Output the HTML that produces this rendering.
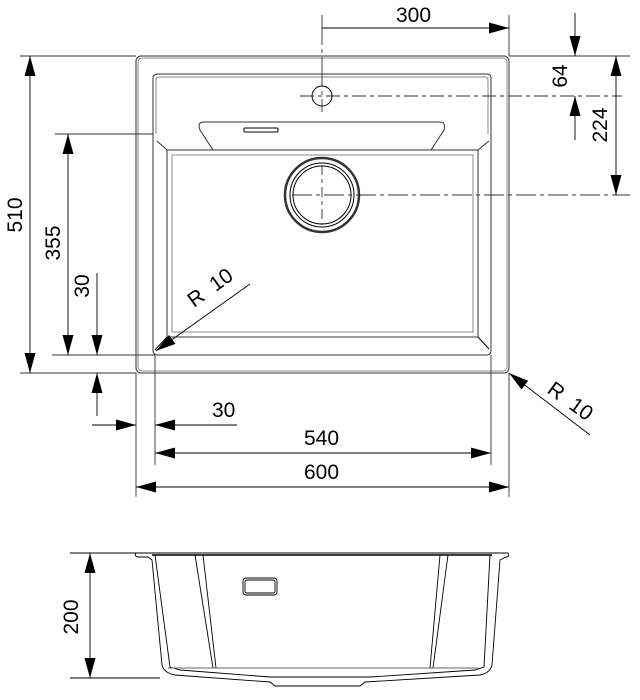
<!DOCTYPE html>
<html><head><style>body{margin:0;background:#fff}svg{display:block}text{font-family:"Liberation Sans",sans-serif;font-size:21px;fill:#000}</style></head><body>
<svg width="640" height="700" viewBox="0 0 640 700" xmlns="http://www.w3.org/2000/svg">
<defs>
<marker id="a" viewBox="0 0 10 10" refX="10" refY="5" markerWidth="20" markerHeight="11" orient="auto-start-reverse" markerUnits="userSpaceOnUse" preserveAspectRatio="none"><path d="M0,0L10,5L0,10z" fill="#000"/></marker>
</defs>
<g fill="none" stroke="#000" stroke-width="1">
<rect x="136" y="56" width="373" height="317" rx="5" stroke="#333"/>
<rect x="138" y="58" width="369" height="313" rx="4" stroke="#888"/>
<path d="M153,134 V78 Q153,74 158,74 H487 Q491,74 491,78 V134" stroke="#333"/>
<path d="M156,134 V80 Q156,77 160,77 H485 Q488,77 488,80 V134" stroke="#888"/>
<path d="M153,134 V350 Q153,355 158,355 H487 Q491,355 491,350 V134" stroke="#333"/>
<path d="M157,141 L167,150 H213 L200,130 Q197,122 204,122 H440 Q446,122 444,130 L431,150 H478 L489,141" stroke="#333"/>
<path d="M167,150 V337 H478 V150" stroke="#333"/>
<path d="M172,155 V332 H473 V155 Z" stroke="#888"/>
<path d="M213,150 H431" stroke="#333"/>
<path d="M167,337 L155,350 M478,337 L489,349"/>
<rect x="244" y="128" width="34" height="4" rx="1"/>
<circle cx="322" cy="195" r="37" stroke-width="2.5" stroke="#333"/>
<circle cx="322" cy="195" r="32"/>
<circle cx="322" cy="195" r="29"/>
<circle cx="322" cy="96" r="10"/>
</g>
<g fill="none" stroke="#333" stroke-width="0.9">
<line x1="322" y1="15" x2="322" y2="112" stroke-dasharray="30,4,4,4"/>
<line x1="300" y1="96" x2="622" y2="96" stroke-dasharray="14,4,4,4"/>
<line x1="322" y1="165" x2="322" y2="225" stroke-dasharray="10,4,4,4"/>
<line x1="292" y1="195" x2="630" y2="195" stroke-dasharray="20,4,4,4"/>
<line x1="509" y1="15" x2="509" y2="56"/>
<line x1="509" y1="56" x2="630" y2="56"/>
<line x1="20" y1="56" x2="136" y2="56"/>
<line x1="20" y1="373" x2="136" y2="373"/>
<line x1="55" y1="134" x2="153" y2="134"/>
<line x1="52" y1="355" x2="155" y2="355"/>
<line x1="136" y1="373" x2="136" y2="497"/>
<line x1="155" y1="355" x2="155" y2="465"/>
<line x1="509" y1="373" x2="509" y2="497"/>
<line x1="491" y1="355" x2="491" y2="465"/>
</g>
<g stroke="#000" stroke-width="0.9" fill="none">
<line x1="322" y1="28" x2="509" y2="28" marker-end="url(#a)"/>
<line x1="30" y1="56" x2="30" y2="373" marker-start="url(#a)" marker-end="url(#a)"/>
<line x1="68" y1="134" x2="68" y2="355" marker-start="url(#a)" marker-end="url(#a)"/>
<line x1="97" y1="273" x2="97" y2="355" marker-end="url(#a)"/>
<line x1="97" y1="416" x2="97" y2="373" marker-end="url(#a)"/>
<line x1="575" y1="13" x2="575" y2="56" marker-end="url(#a)"/>
<line x1="575" y1="140" x2="575" y2="96" marker-end="url(#a)"/>
<line x1="616" y1="56" x2="616" y2="195" marker-start="url(#a)" marker-end="url(#a)"/>
<line x1="92" y1="425" x2="136" y2="425" marker-end="url(#a)"/>
<line x1="237" y1="425" x2="155" y2="425" marker-end="url(#a)"/>
<line x1="155" y1="453" x2="491" y2="453" marker-start="url(#a)" marker-end="url(#a)"/>
<line x1="136" y1="487" x2="509" y2="487" marker-start="url(#a)" marker-end="url(#a)"/>
<line x1="250" y1="284" x2="156" y2="351" marker-end="url(#a)"/>
<line x1="590" y1="435" x2="509" y2="373" marker-end="url(#a)"/>
<line x1="70" y1="553" x2="136" y2="553"/>
<line x1="70" y1="678" x2="160" y2="678"/>
<line x1="90" y1="553" x2="90" y2="678" marker-start="url(#a)" marker-end="url(#a)"/>
</g>
<text x="396" y="22">300</text>
<text transform="translate(22,215) rotate(-90)" text-anchor="middle">510</text>
<text transform="translate(60,243) rotate(-90)" text-anchor="middle">355</text>
<text transform="translate(89,286) rotate(-90)" text-anchor="middle">30</text>
<text transform="translate(567,76) rotate(-90)" text-anchor="middle">64</text>
<text transform="translate(607,125) rotate(-90)" text-anchor="middle">224</text>
<text x="212" y="417">30</text>
<text x="304" y="445">540</text>
<text x="304" y="479">600</text>
<text transform="translate(194,308) rotate(-36)" xml:space="preserve">R  10</text>
<text transform="translate(546,392) rotate(36)" xml:space="preserve">R  10</text>
<text transform="translate(78,617) rotate(-90)" text-anchor="middle">200</text>
<g fill="none" stroke="#000" stroke-width="0.9">
<path d="M136,553 Q134,556 138,557 H148 L152,560 L162,665 Q164,673 175,675 L270,682 L275,686 H360 L365,682 L480,675 Q490,673 492,665 L500,560 L506,557 H507 Q510,556 508,553 Z"/>
<path d="M155,555 L170,667 L180,670 L270,677 H370 L475,670 L484,667 L490,555"/>
<path d="M152,555 H492" stroke-width="1.5"/>
<path d="M195,555 L213,668 M203,555 L216,668 M440,555 L430,668 M448,555 L433,668"/>
<path d="M168,668 H478" stroke="#666"/>
<rect x="243" y="578" width="34" height="17" rx="3"/>
<rect x="245" y="580" width="30" height="13" rx="2"/>
</g>
</svg>
</body></html>
